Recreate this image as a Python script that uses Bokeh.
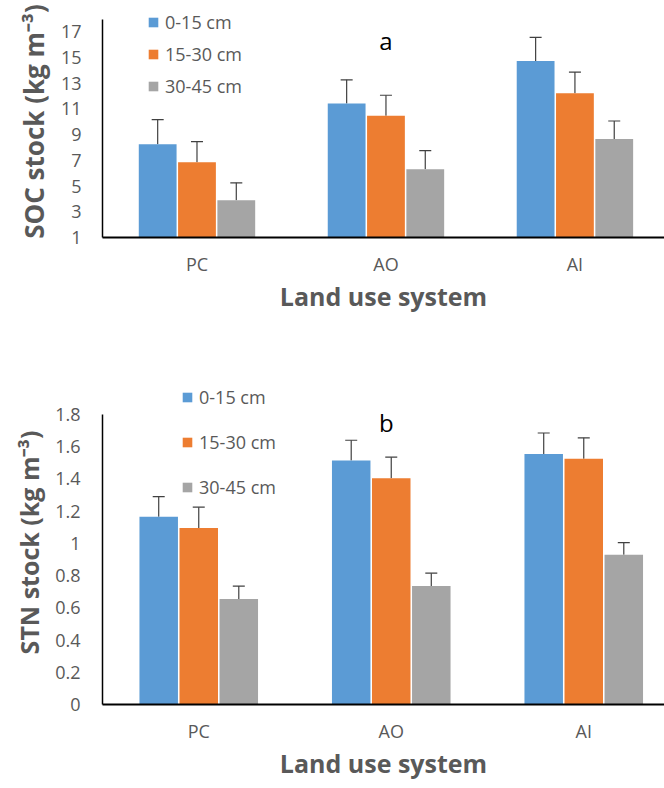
from bokeh.plotting import figure
from bokeh.models import (Range1d, FixedTicker, Whisker, TeeHead, ColumnDataSource,
                          Label, NumeralTickFormatter)
from bokeh.layouts import column
from bokeh.embed import file_html
from bokeh.resources import INLINE

# ---------------- data ----------------
categories = ["PC", "AO", "AI"]
depths = ["0-15 cm", "15-30 cm", "30-45 cm"]

soc_0_15 = [8.25, 11.4, 14.7]
soc_15_30 = [6.85, 10.45, 12.2]
soc_30_45 = [3.9, 6.3, 8.65]
soc_err_0_15 = [1.9, 1.85, 1.85]
soc_err_15_30 = [1.6, 1.6, 1.65]
soc_err_30_45 = [1.35, 1.45, 1.4]
soc_ticks = [1, 3, 5, 7, 9, 11, 13, 15, 17]

stn_0_15 = [1.165, 1.515, 1.555]
stn_15_30 = [1.095, 1.405, 1.525]
stn_30_45 = [0.655, 0.735, 0.93]
stn_err_0_15 = [0.125, 0.125, 0.13]
stn_err_15_30 = [0.13, 0.13, 0.13]
stn_err_30_45 = [0.08, 0.08, 0.075]
stn_ticks = [0, 0.2, 0.4, 0.6, 0.8, 1.0, 1.2, 1.4, 1.6, 1.8]

# ---------------- style ----------------
COLORS = ["#5B9BD5", "#ED7D31", "#A5A5A5"]
OFFSETS = [-0.208, 0.0, 0.208]
BAR_W = 0.2
FONT = "Open Sans"
GREY_TXT = "#595959"
ERR_COL = "#404040"
W = 664


def make_chart(vals, errs, y0, y_axis_end, y_view_end, ticks, ylabel, ylabel_size, letter,
               letter_xy, left, cat_px, height, top, bottom, legend_loc, legend_spacing,
               fmt=None, tick_standoff=21, x_standoff=15, xlabel_standoff=0):
    frame_w = W - left
    x_end = -0.5 + frame_w / cat_px
    p = figure(width=W, height=height, output_backend="svg", toolbar_location=None,
               x_range=Range1d(-0.5, x_end), y_range=Range1d(y0, y_view_end),
               min_border_left=left, min_border_right=0, min_border_top=top,
               min_border_bottom=bottom)
    p.outline_line_color = None
    p.xgrid.visible = False
    p.ygrid.visible = False
    p.background_fill_color = "white"
    p.border_fill_color = "white"

    xs = list(range(len(categories)))
    for i in range(3):
        bx = [x + OFFSETS[i] for x in xs]
        upper = [v + e for v, e in zip(vals[i], errs[i])]
        src = ColumnDataSource(dict(x=bx, top=vals[i], upper=upper))
        p.vbar(x="x", top="top", bottom=y0, width=BAR_W, source=src,
               fill_color=COLORS[i], line_color=None, legend_label=depths[i])
        w = Whisker(source=src, base="x", lower="top", upper="upper",
                    dimension="height", line_color=ERR_COL, line_width=1.2,
                    upper_head=TeeHead(size=12, line_color=ERR_COL, line_width=1.2),
                    lower_head=None)
        p.add_layout(w)

    # y axis
    ya = p.yaxis[0]
    ya.bounds = (y0, y_axis_end)
    ya.ticker = FixedTicker(ticks=ticks)
    if fmt is not None:
        ya.formatter = fmt
    ya.major_tick_line_color = None
    ya.minor_tick_line_color = None
    ya.major_tick_out = 0
    ya.major_tick_in = 0
    ya.axis_line_color = "black"
    ya.axis_line_width = 1.5
    ya.major_label_text_font = FONT
    ya.major_label_text_font_size = "18px"
    ya.major_label_text_color = GREY_TXT
    ya.major_label_standoff = tick_standoff
    ya.axis_label = ylabel
    ya.axis_label_text_font = FONT
    ya.axis_label_text_font_style = "bold"
    ya.axis_label_text_font_size = ylabel_size
    ya.axis_label_text_color = GREY_TXT
    ya.axis_label_standoff = 6

    # x axis
    xa = p.xaxis[0]
    xa.ticker = FixedTicker(ticks=xs)
    xa.major_label_overrides = {x: c for x, c in zip(xs, categories)}
    xa.major_tick_line_color = None
    xa.minor_tick_line_color = None
    xa.major_tick_out = 0
    xa.major_tick_in = 0
    xa.axis_line_color = "black"
    xa.axis_line_width = 2
    xa.major_label_text_font = FONT
    xa.major_label_text_font_size = "18px"
    xa.major_label_text_color = GREY_TXT
    xa.major_label_standoff = x_standoff
    xa.axis_label = "Land use system"
    xa.axis_label_text_font = FONT
    xa.axis_label_text_font_style = "bold"
    xa.axis_label_text_font_size = "25px"
    xa.axis_label_text_color = GREY_TXT
    xa.axis_label_standoff = xlabel_standoff

    # legend
    lg = p.legend[0]
    lg.location = legend_loc
    lg.padding = 0
    lg.margin = 0
    lg.border_line_color = None
    lg.background_fill_alpha = 0
    lg.glyph_width = 12
    lg.glyph_height = 12
    lg.label_standoff = 6
    lg.label_height = 20
    lg.spacing = legend_spacing
    lg.label_text_font = FONT
    lg.label_text_font_size = "18px"
    lg.label_text_color = GREY_TXT

    lab = Label(x=letter_xy[0], y=letter_xy[1], text=letter, text_font=FONT,
                text_font_size="24px", text_color="black", text_align="center",
                text_baseline="middle")
    p.add_layout(lab)
    return p


p1 = make_chart([soc_0_15, soc_15_30, soc_30_45],
                [soc_err_0_15, soc_err_15_30, soc_err_30_45],
                1, 17.93, 19.02, soc_ticks, "SOC stock (kg m\u207b\u00b3)", "26px", "a",
                (1.0, 16.3), left=93, cat_px=192, height=370, top=5, bottom=133,
                legend_loc=(45, 139), legend_spacing=8,
                tick_standoff=21, x_standoff=14, xlabel_standoff=0)

p2 = make_chart([stn_0_15, stn_15_30, stn_30_45],
                [stn_err_0_15, stn_err_15_30, stn_err_30_45],
                0, 1.8, 2.011, stn_ticks, "STN stock (kg m\u207b\u00b3)", "25px", "b",
                (0.975, 1.75), left=102, cat_px=192.5, height=418, top=10, bottom=84,
                legend_loc=(79, 205), legend_spacing=21,
                fmt=NumeralTickFormatter(format="0.[0]"),
                tick_standoff=22, x_standoff=14, xlabel_standoff=0)

layout = column(p1, p2, spacing=0)
open("out.html", "w").write(file_html(layout, INLINE))
